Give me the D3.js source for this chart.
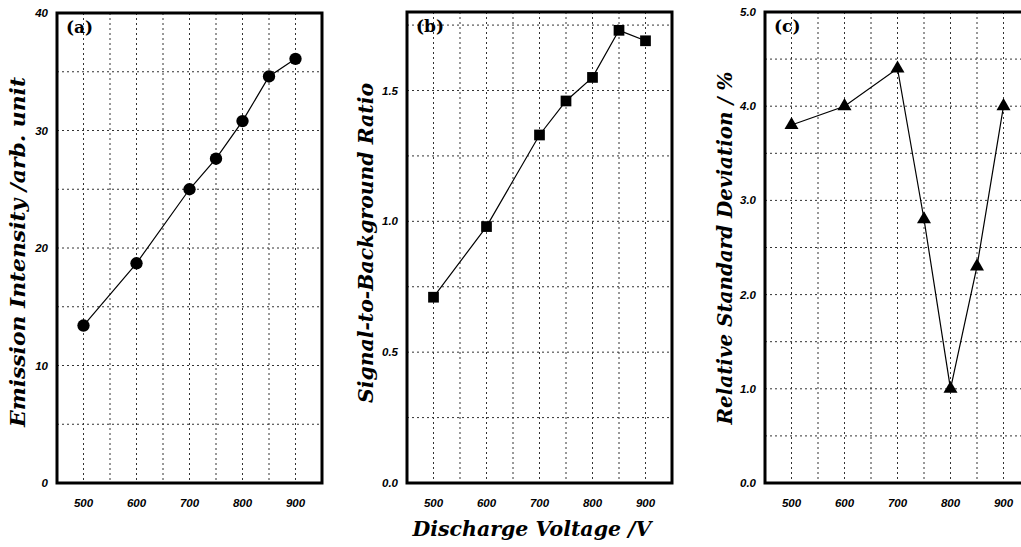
<!DOCTYPE html>
<html>
<head>
<meta charset="utf-8">
<script src="https://cdn.jsdelivr.net/npm/d3@7"></script>
<style>
  body { margin: 0; background: #fff; }
  .tick-label { font-family: "Liberation Sans", Arial, sans-serif; font-weight: bold; font-style: italic; font-size: 11.5px; }
  .title { font-family: "DejaVu Serif", serif; font-weight: bold; font-style: italic; font-size: 21px; }
  .panel-label { font-family: "DejaVu Serif", serif; font-weight: bold; font-size: 17px; }
</style>
</head>
<body>
<script>
// Stage
let width = 1021;
let height = 547;

let svg = d3.select("body")
            .append("svg")
            .attr("width", width)
            .attr("height", height);

// Data
let voltage = [500, 600, 700, 750, 800, 850, 900];
let emission = [13.4, 18.7, 25.0, 27.6, 30.8, 34.6, 36.1];
let sbr = [0.71, 0.98, 1.33, 1.46, 1.55, 1.73, 1.69];
let rsd = [3.8, 4.0, 4.4, 2.8, 1.0, 2.3, 4.0];

let x_ticks = [500, 600, 700, 800, 900];
let x_grid = [500, 550, 600, 650, 700, 750, 800, 850, 900];

let panels = [
  { id: "a", left: 57, top: 13, values: emission, ymax: 40, step: 5,
    ticks: [0, 10, 20, 30, 40], fmt: d3.format("d"), marker: "circle",
    title: "Emission Intensity /arb. unit", titleX: 25, titleY: 252, titleLen: 350 },
  { id: "b", left: 407, top: 12, values: sbr, ymax: 1.8, step: 0.25,
    ticks: [0, 0.5, 1.0, 1.5], fmt: d3.format(".1f"), marker: "square",
    title: "Signal-to-Background Ratio", titleX: 373, titleY: 243, titleLen: 320 },
  { id: "c", left: 765, top: 12, values: rsd, ymax: 5, step: 0.5,
    ticks: [0, 1, 2, 3, 4, 5], fmt: d3.format(".1f"), marker: "triangle",
    title: "Relative Standard Deviation / %", titleX: 732, titleY: 248, titleLen: 353 }
];

let panel_w = 265;
let bottom = 483;
let grid_color = "#333";

let symbols = {
  circle: d3.symbol().type(d3.symbolCircle).size(120),
  square: d3.symbol().type(d3.symbolSquare).size(115),
  triangle: d3.symbol().type(d3.symbolTriangle).size(85)
};

panels.forEach(function(p) {
  let x = d3.scaleLinear().domain([450, 950]).range([p.left, p.left + panel_w]);
  let y = d3.scaleLinear().domain([0, p.ymax]).range([bottom, p.top]);

  let g = svg.append("g").attr("id", "panel-" + p.id);

  // horizontal grid
  let ygrid = d3.range(p.step, p.ymax - 1e-9, p.step);
  g.selectAll(".hgrid").data(ygrid).enter().append("line")
    .attr("x1", p.left).attr("x2", p.left + panel_w)
    .attr("y1", d => y(d)).attr("y2", d => y(d))
    .attr("stroke", grid_color).attr("stroke-width", 1)
    .attr("stroke-dasharray", "2,3");

  // vertical grid
  g.selectAll(".vgrid").data(x_grid).enter().append("line")
    .attr("x1", d => x(d)).attr("x2", d => x(d))
    .attr("y1", p.top).attr("y2", bottom)
    .attr("stroke", grid_color).attr("stroke-width", 1)
    .attr("stroke-dasharray", "2,3");

  // frame
  g.append("rect")
    .attr("x", p.left).attr("y", p.top)
    .attr("width", panel_w).attr("height", bottom - p.top)
    .attr("fill", "none").attr("stroke", "#000").attr("stroke-width", 3);

  // y tick labels
  g.selectAll(".ylab").data(p.ticks).enter().append("text")
    .attr("class", "tick-label")
    .attr("x", p.left - 9).attr("y", d => y(d) + 4)
    .attr("text-anchor", "end")
    .text(d => p.fmt(d));

  // x tick labels
  g.selectAll(".xlab").data(x_ticks).enter().append("text")
    .attr("class", "tick-label")
    .attr("x", d => x(d)).attr("y", 507)
    .attr("text-anchor", "middle")
    .text(d => d);

  // data line
  let line = d3.line().x((d, i) => x(voltage[i])).y(d => y(d));
  g.append("path").datum(p.values)
    .attr("d", line).attr("fill", "none")
    .attr("stroke", "#000").attr("stroke-width", 1.2);

  // markers
  g.selectAll(".mark").data(p.values).enter().append("path")
    .attr("d", symbols[p.marker])
    .attr("transform", (d, i) => "translate(" + x(voltage[i]) + "," + y(d) + ")")
    .attr("fill", "#000");

  // panel label
  g.append("text").attr("class", "panel-label")
    .attr("x", p.left + 9).attr("y", p.top + 20)
    .text("(" + p.id + ")");

  // y title
  g.append("text").attr("class", "title")
    .attr("transform", "translate(" + p.titleX + "," + p.titleY + ") rotate(-90)")
    .attr("text-anchor", "middle")
    .attr("textLength", p.titleLen).attr("lengthAdjust", "spacingAndGlyphs")
    .text(p.title);
});

// shared x title
svg.append("text").attr("class", "title")
  .attr("x", 532).attr("y", 536)
  .attr("text-anchor", "middle")
  .attr("textLength", 239).attr("lengthAdjust", "spacingAndGlyphs")
  .text("Discharge Voltage /V");
</script>
</body>
</html>
